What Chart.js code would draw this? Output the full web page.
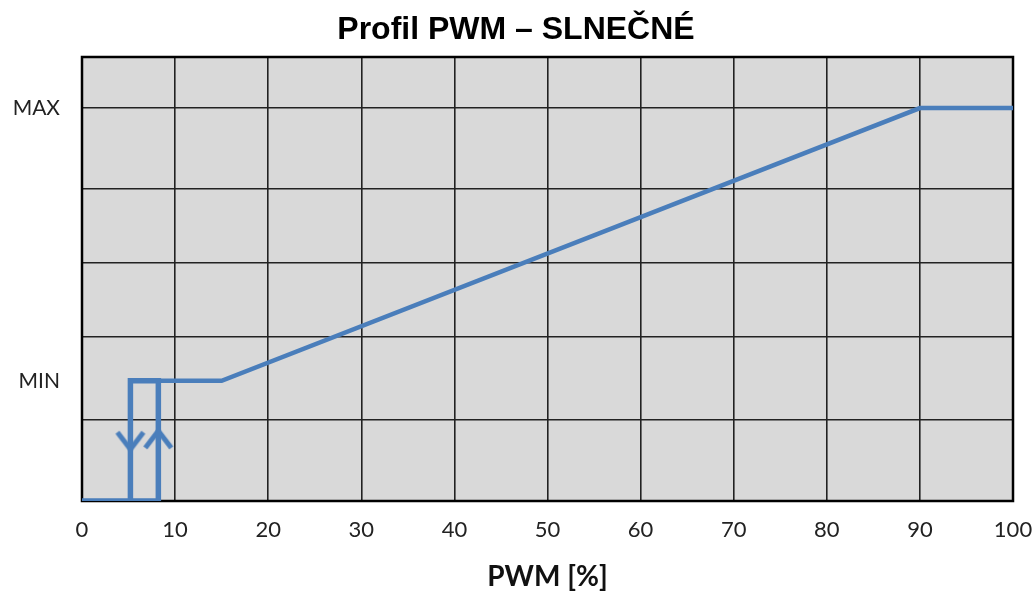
<!DOCTYPE html>
<html>
<head>
<meta charset="utf-8">
<script src="https://cdn.jsdelivr.net/npm/chart.js@4/dist/chart.umd.min.js"></script>
<style>
  html, body { margin: 0; padding: 0; background: #fff; }
  #wrap { width: 1032px; height: 591px; }
</style>
</head>
<body>
<div id="wrap"><canvas id="c" width="1032" height="591"></canvas></div>
<script>
// ---- data ----
const titleText = 'Profil PWM – SLNEČNÉ';
const xTitle = 'PWM [%]';
const xTicks = [0, 10, 20, 30, 40, 50, 60, 70, 80, 90, 100];
const yMin = 0, yMax = 5.65;           // relative output level
const MIN = 1.53, MAX = 5.0;           // labelled levels
const yGridLevels = [1.03, 2.09, 3.03, 3.97, 5.0];
const offX = 5.2, onX = 8.2;           // hysteresis switch points [%]
// hysteresis loop (off -> on)
const loopX = [0, onX, onX, offX, offX];
const loopY = [0, 0, MIN, MIN, 0];
// regulation curve
const curveX = [offX, 15, 90, 100];
const curveY = [MIN, MIN, MAX, MAX];
// direction arrows
const arrowX = [offX, onX];
const arrowY = [0.76, 0.79];
const arrowRot = [0, 180];

const BLUE = '#4a7ebb';
const toPts = (xs, ys) => xs.map((x, i) => ({x, y: ys[i]}));

// chevron point style
function chevron() {
  const cv = document.createElement('canvas');
  cv.width = 32; cv.height = 24;
  const g = cv.getContext('2d');
  g.strokeStyle = BLUE; g.lineWidth = 5; g.lineCap = 'butt'; g.lineJoin = 'miter';
  g.beginPath(); g.moveTo(3, 3); g.lineTo(16, 20); g.lineTo(29, 3); g.stroke();
  return cv;
}
const chev = chevron();

const plotBg = {
  id: 'plotBg',
  beforeDraw(chart) {
    const {ctx, chartArea: a} = chart;
    ctx.save(); ctx.fillStyle = '#d9d9d9';
    ctx.fillRect(a.left, a.top, a.right - a.left, a.bottom - a.top);
    ctx.restore();
  },
  beforeDatasetsDraw(chart) {
    const {ctx, chartArea: a} = chart;
    ctx.save(); ctx.strokeStyle = '#000'; ctx.lineWidth = 2.5;
    ctx.strokeRect(a.left, a.top, a.right - a.left, a.bottom - a.top);
    ctx.restore();
  }
};

const yTickVals = [0, ...yGridLevels, MIN, yMax].sort((a, b) => a - b);

new Chart(document.getElementById('c'), {
  type: 'scatter',
  data: {
    datasets: [
      { data: toPts(loopX, loopY), showLine: true, borderColor: BLUE, borderWidth: 5.5,
        pointRadius: 0, tension: 0, borderJoinStyle: 'miter' },
      { data: toPts(curveX, curveY), showLine: true, borderColor: BLUE, borderWidth: 4.5,
        pointRadius: 0, tension: 0, borderJoinStyle: 'miter' },
      { data: toPts(arrowX, arrowY), showLine: false, pointStyle: chev,
        rotation: arrowRot, pointRadius: 12 }
    ]
  },
  options: {
    responsive: false,
    animation: false,
    layout: { padding: { left: 0, right: 0, top: 0, bottom: 0 } },
    plugins: {
      legend: { display: false },
      tooltip: { enabled: false },
      title: {
        display: true, text: titleText, color: '#000',
        font: { family: 'Liberation Sans', size: 32, weight: 'bold', lineHeight: 1.2 },
        padding: { top: 11, bottom: 7.6 }
      }
    },
    scales: {
      x: {
        type: 'linear', min: 0, max: 100,
        afterBuildTicks(s) { s.ticks = xTicks.map(v => ({value: v})); },
        afterFit(s) { s.height = 90; s.paddingLeft = 0; s.paddingRight = 19; },
        ticks: { color: '#222', padding: 16,
          font: { family: 'Lato', size: 22 }, maxRotation: 0 },
        grid: { color: '#222', lineWidth: 1.6, drawTicks: false },
        border: { display: false },
        title: { display: true, text: xTitle, color: '#111',
          font: { family: 'Lato', size: 28, weight: 'bold', lineHeight: 1 },
          padding: { top: 0, bottom: 0 } }
      },
      y: {
        type: 'linear', min: yMin, max: yMax,
        afterBuildTicks(s) { s.ticks = yTickVals.map(v => ({value: v})); },
        afterFit(s) { s.width = 82; },
        ticks: { color: '#222', padding: 22, font: { family: 'Lato', size: 21 },
          callback: v => v === MAX ? 'MAX' : (v === MIN ? 'MIN' : '') },
        grid: { drawTicks: false, lineWidth: 1.6,
          color: ctx => (ctx.tick && ctx.tick.value === MIN) ? 'rgba(0,0,0,0)' : '#222' },
        border: { display: false }
      }
    }
  },
  plugins: [plotBg]
});
</script>
</body>
</html>
